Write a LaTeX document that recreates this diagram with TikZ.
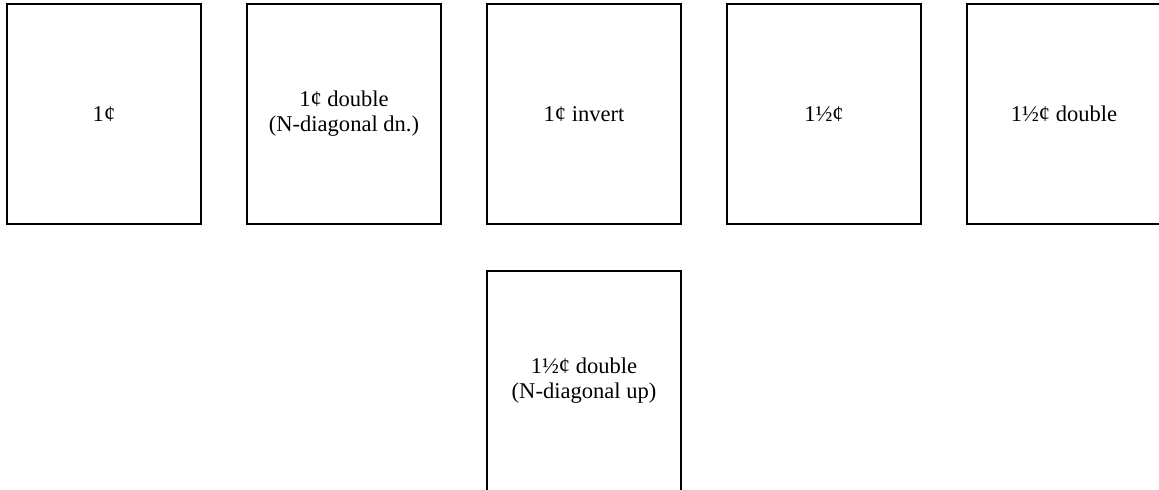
\documentclass[tikz,border=0pt]{standalone}
\usepackage{fontspec}
\setmainfont{Liberation Serif}

\begin{document}
\begin{tikzpicture}[x=0.75pt,y=-0.75pt,
  stamp/.style={draw,line width=1.5pt,minimum width=145.5pt,minimum height=165pt,
    inner sep=0pt,align=center,font=\fontsize{16.9}{18.8}\selectfont}]
  \useasboundingbox (0,0) rectangle (1159,489);
  \foreach \x/\nm/\lbl in {104/one/1¢, 344/onedbl/{1¢ double\\(N-diagonal dn.)},
      584/oneinv/1¢ invert, 824/half/1½¢, 1064/halfdbl/1½¢ double} {
    \node[stamp] (\nm) at (\x,114) {\lbl};
  }
  \node[stamp] (halfdblup) at (584,381) {1½¢ double\\(N-diagonal up)};
\end{tikzpicture}
\end{document}
